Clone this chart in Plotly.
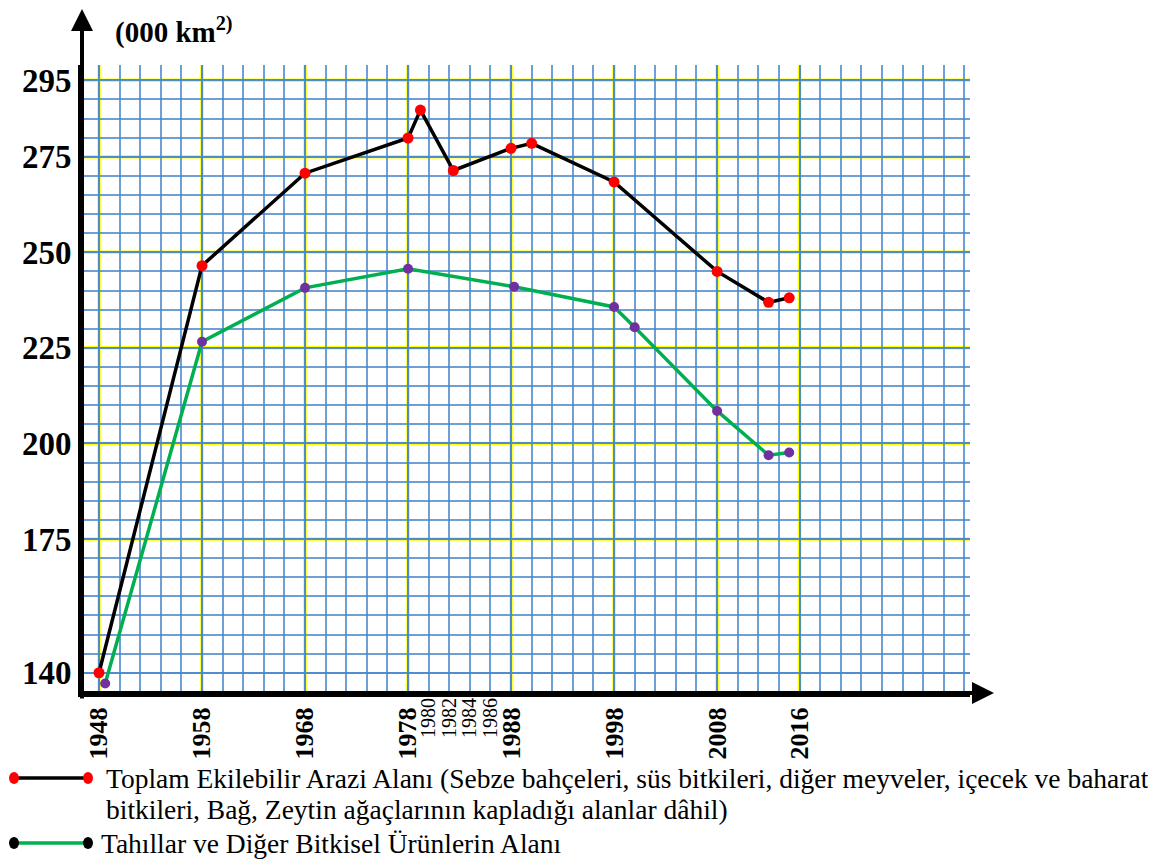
"""Arable land area in Turkey, 1948-2016 (thousand km2)."""

import plotly.graph_objects as go

# ---- data ----
total_years = [1948, 1958, 1968, 1978, 1979.2, 1982.4, 1988, 1990, 1998, 2008, 2013, 2015]
total_area = [140, 246.5, 270.7, 279.9, 287.2, 271.4, 277.2, 278.5, 268.4, 245.0, 236.9, 238.1]

cereal_years = [1948.6, 1958, 1968, 1978, 1988.3, 1998, 2000, 2008, 2013, 2015]
cereal_area = [137.2, 226.6, 240.7, 245.7, 241.0, 235.7, 230.4, 208.5, 196.9, 197.6]

x_ticks = [1948, 1958, 1968, 1978, 1988, 1998, 2008, 2016]
x_small_ticks = [1980, 1982, 1984, 1986]
y_ticks = [140, 175, 200, 225, 250, 275, 295]
y_yellow = [175, 200, 225, 250, 275, 295]

legend_total_1 = ("Toplam Ekilebilir Arazi Alanı (Sebze bahçeleri, süs bitkileri, diğer meyveler, "
                  "içecek ve baharat")
legend_total_2 = "bitkileri, Bağ, Zeytin ağaçlarının kapladığı alanlar dâhil)"
legend_cereal = "Tahıllar ve Diğer Bitkisel Ürünlerin Alanı"

# ---- layout geometry (page body has an 8px margin) ----
PAGE_OFF = 8
WIDTH, HEIGHT = 1148, 852
LEFT, TOP = 82 - PAGE_OFF, 65 - PAGE_OFF
PLOT_W, PLOT_H = 888, 628
RIGHT = WIDTH - LEFT - PLOT_W
BOTTOM = HEIGHT - TOP - PLOT_H
SERIF = "Liberation Serif, Times New Roman, serif"
BLUE = "rgba(74,136,204,0.8)"
YELLOW = "#ffff00"
LEGEND_SIZE = 27.5


def paper_x(px):
    return (px - PAGE_OFF - LEFT) / PLOT_W


def paper_y(py):
    return (TOP + PLOT_H - (py - PAGE_OFF)) / PLOT_H


fig = go.Figure()

fig.add_trace(go.Scatter(
    x=total_years, y=total_area, mode="lines+markers",
    line=dict(color="black", width=3.5),
    marker=dict(color="#ff0000", size=11),
    showlegend=False,
))
fig.add_trace(go.Scatter(
    x=cereal_years, y=cereal_area, mode="lines+markers",
    line=dict(color="#00b050", width=3.5),
    marker=dict(color="#7030a0", size=10),
    showlegend=False,
))
# empty trace so the second x axis (small year labels) is drawn
fig.add_trace(go.Scatter(x=[], y=[], xaxis="x2", showlegend=False))

# yellow major grid lines
shapes = []
for yr in x_ticks:
    shapes.append(dict(type="line", xref="x", yref="paper", x0=yr, x1=yr, y0=0, y1=1,
                       line=dict(color=YELLOW, width=3.5), layer="below"))
for v in y_yellow:
    shapes.append(dict(type="line", xref="paper", yref="y", x0=0, x1=1, y0=v, y1=v,
                       line=dict(color=YELLOW, width=3.5), layer="below"))

# legend icons
for py, line_col, dot_col in [(778, "black", "#ff0000"), (843, "#00b050", "black")]:
    shapes.append(dict(type="line", xref="paper", yref="paper",
                       x0=paper_x(14), x1=paper_x(88), y0=paper_y(py), y1=paper_y(py),
                       line=dict(color=line_col, width=3.5)))
    for px in (14, 88):
        shapes.append(dict(type="circle", xref="paper", yref="paper",
                           xsizemode="pixel", ysizemode="pixel",
                           xanchor=paper_x(px), yanchor=paper_y(py),
                           x0=-5, x1=5, y0=-6, y1=6,
                           fillcolor=dot_col, line=dict(width=0)))

annotations = [
    # y axis arrow
    dict(x=0, y=paper_y(8), xref="paper", yref="paper", ax=0, ay=692,
         axref="pixel", ayref="pixel", showarrow=True, arrowhead=2,
         arrowsize=1.1, arrowwidth=4, arrowcolor="black", text=""),
    # x axis arrow
    dict(x=paper_x(994), y=0, xref="paper", yref="paper", ax=-914, ay=0,
         axref="pixel", ayref="pixel", showarrow=True, arrowhead=2,
         arrowsize=1.1, arrowwidth=4, arrowcolor="black", text=""),
    dict(x=paper_x(113), y=paper_y(30), xref="paper", yref="paper",
         xanchor="left", yanchor="middle", showarrow=False,
         text="<b>(000 km<sup>2)</sup></b>", font=dict(family=SERIF, size=29, color="black")),
]
for px, py, txt in [(104, 778, legend_total_1), (104, 809, legend_total_2), (99, 843, legend_cereal)]:
    annotations.append(dict(
        x=paper_x(px), y=paper_y(py), xref="paper", yref="paper",
        xanchor="left", yanchor="middle", showarrow=False, align="left",
        text=txt, font=dict(family=SERIF, size=LEGEND_SIZE, color="black"),
    ))

x_range = [1946.35, 2032.55]

fig.update_layout(
    width=WIDTH, height=HEIGHT,
    margin=dict(l=LEFT, r=RIGHT, t=TOP, b=BOTTOM),
    paper_bgcolor="white", plot_bgcolor="white",
    shapes=shapes, annotations=annotations,
    xaxis=dict(
        range=x_range, tickvals=x_ticks, tickangle=-90, automargin=False,
        tickfont=dict(family=SERIF, size=26, color="black", weight="bold"),
        showgrid=True, gridcolor=BLUE, gridwidth=1.5,
        minor=dict(tick0=1948, dtick=2, showgrid=True, gridcolor=BLUE, gridwidth=1.5),
        showline=True, linecolor="black", linewidth=4,
        zeroline=False, ticks="",
    ),
    xaxis2=dict(
        range=x_range, overlaying="x", anchor="y", side="bottom", automargin=False,
        tickvals=x_small_ticks, tickangle=-90,
        tickfont=dict(family=SERIF, size=20, color="black"),
        showgrid=False, zeroline=False, ticks="",
    ),
    yaxis=dict(
        range=[134.7, 299], tickvals=y_ticks, automargin=False,
        tickfont=dict(family=SERIF, size=33, color="black", weight="bold"),
        showgrid=True, gridcolor=BLUE, gridwidth=1.5,
        minor=dict(tick0=135, dtick=5, showgrid=True, gridcolor=BLUE, gridwidth=1.5),
        showline=True, linecolor="black", linewidth=4,
        zeroline=False, ticks="",
    ),
)

fig.write_html("out.html")
